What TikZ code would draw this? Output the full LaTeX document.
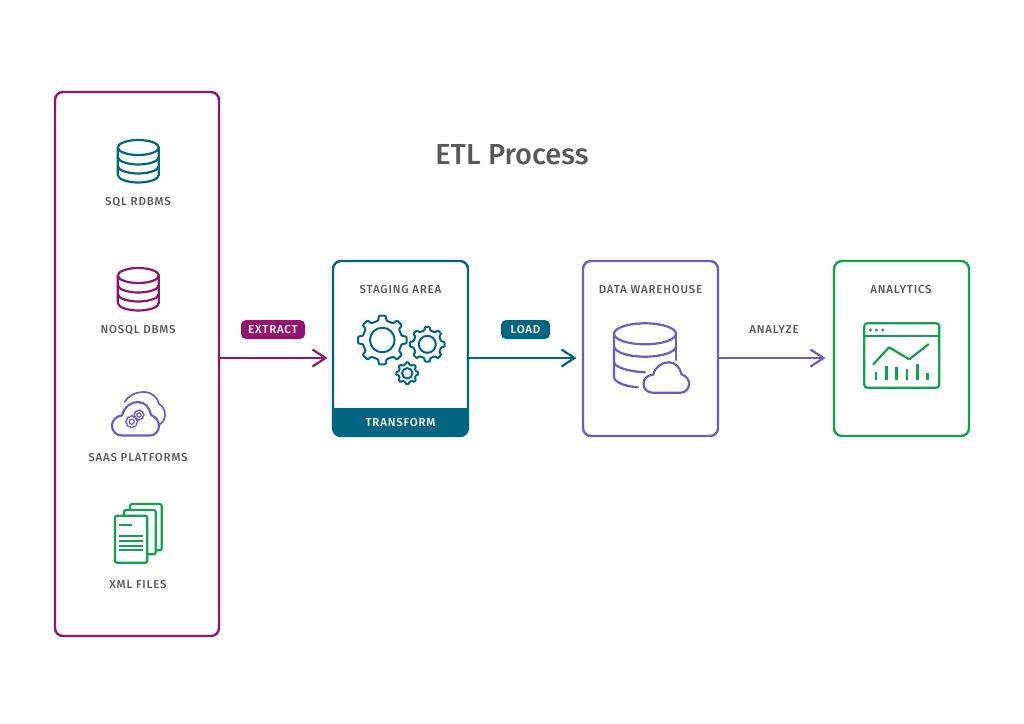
\documentclass[tikz,border=0pt]{standalone}
\usepackage{fontspec}
\setmainfont{Fira Sans}
\newfontfamily\labelfont[LetterSpace=7]{Fira Sans Medium}
\newfontfamily\titlefont{Fira Sans Medium}
\usepackage{xcolor}
\usetikzlibrary{positioning, arrows.meta}
\definecolor{plumc}{HTML}{93126F}
\definecolor{tealc}{HTML}{00657F}
\definecolor{violetc}{HTML}{6C5CC6}
\definecolor{greenc}{HTML}{12A150}
\definecolor{inkc}{HTML}{58595B}
\tikzset{
    stage/.style={draw, line width=2.4pt, rounded corners=8pt, outer sep=0pt, minimum width=135pt, minimum height=175pt},
    caption/.style={font=\labelfont\fontsize{11.5}{13}\selectfont, text=inkc, inner sep=0pt, text height=8pt, text depth=0pt},
    pill/.style={caption, text=white, fill=#1, rounded corners=5pt, minimum height=19pt},
    flow/.style={line width=2.2pt, -{Straight Barb[length=13pt, width=17pt, line width=2.2pt]}, shorten >=5.5pt},
    glyph/.style={line width=2.2pt, line join=round, line cap=round},
    pics/gearicon/.style args={#1/#2/#3}{code={
        \draw[glyph, rounded corners=0.8pt, line width=#3] (12:#1*0.81)
            \foreach \k in {1,...,7}{
                -- (\k*45-12:#1*0.81) -- (\k*45-8:#1) -- (\k*45+8:#1) -- (\k*45+12:#1*0.81)
            } -- (-12:#1*0.81) -- (-8:#1) -- (8:#1) -- cycle;
        \draw[glyph, line width=#3] (0,0) circle (#2);
    }},
    pics/dbicon/.style={code={
        \draw[glyph] (0,0) ellipse [x radius=20.5, y radius=7.5];
        \draw[glyph] (-20.5,0) -- (-20.5,27.5) .. controls (-20.5,32) and (-10,35) .. (0,35)
            .. controls (10,35) and (20.5,32) .. (20.5,27.5) -- (20.5,0);
        \draw[glyph] (-20.5,9.5) .. controls (-20.5,14) and (-10,17) .. (0,17) .. controls (10,17) and (20.5,14) .. (20.5,9.5);
        \draw[glyph] (-20.5,18.5) .. controls (-20.5,23) and (-10,26) .. (0,26) .. controls (10,26) and (20.5,23) .. (20.5,18.5);
    }},
    pics/cloudicon/.style={code={
        \draw[glyph] (10,33.5) .. controls (4,33.5) and (0,29) .. (0,24) .. controls (0,18) and (4,14) .. (10,13.5)
            .. controls (12,5) and (19,0) .. (26,0) .. controls (33,0) and (38,6) .. (39,13)
            .. controls (44,15) and (47,19) .. (47,24) .. controls (47,29) and (43,33.5) .. (38,33.5) -- cycle;
    }},
}

\begin{document}
\begin{tikzpicture}[x=1pt, y=-1pt]
    \useasboundingbox (0,0) rectangle (1024,723);

    \node[font=\titlefont\fontsize{29}{32}\selectfont, text=inkc, inner sep=0pt] (heading) at (512,154.5) {ETL Process};

    % boxes
    \node[stage, draw=plumc, minimum width=164pt, minimum height=544pt] (sources) at (137,364) {};
    \node[stage, draw=tealc] (staging) at (400.5,348.5) {};
    \node[stage, draw=violetc, right=115pt of staging] (warehouse) {};
    \node[stage, draw=greenc, right=116pt of warehouse] (analytics) {};
    \fill[tealc] (staging.west |- 0,408) [rounded corners=8pt] -- (staging.south west) -- (staging.south east) [sharp corners] -- (staging.east |- 0,408) -- cycle;

    % source column
    \pic[tealc] at (138.3,147.5) {dbicon};
    \node[caption] (sqlname) at (138,201.5) {SQL RDBMS};
    \pic[plumc] at (138.3,275.5) {dbicon};
    \node[caption] (nosqlname) at (138,329.5) {NOSQL DBMS};

    \draw[glyph, violetc, line width=1.7pt] (124.5,402) .. controls (128,396) and (135,392) .. (144,392) .. controls (152,392) and (158,398) .. (159,404) .. controls (163,406) and (165,410) .. (165,415) .. controls (165,420) and (162,423) .. (159,425);
    \pic[violetc] at (112,402) {cloudicon};
    \pic[violetc] at (131.7,421.7) {gearicon=6.2/2.6/1.2pt};
    \pic[violetc] at (139,415) {gearicon=5.2/2.2/1.2pt};
    \node[caption] (saasname) at (138,457.5) {SAAS PLATFORMS};

    \draw[glyph, greenc, rounded corners=2pt] (130,510) -- (130,504) -- (161.7,504) -- (161.7,550.3) -- (155.7,550.3);
    \draw[glyph, greenc, rounded corners=2pt] (124,515.7) -- (124,510) -- (155.7,510) -- (155.7,554.3) -- (147.3,554.3);
    \draw[glyph, greenc, rounded corners=2pt] (115,515.7) rectangle (147.3,562.7);
    \draw[glyph, greenc, line cap=butt] (119.3,525.3) -- (131.7,525.3);
    \foreach \ypos in {535.7,540.7,545.7,550.3}
        \draw[glyph, greenc, line cap=butt] (119.3,\ypos) -- (143.3,\ypos);
    \node[caption] (xmlname) at (138,584) {XML FILES};

    % staging area
    \node[caption] (stagingname) at (400.5,289.5) {STAGING AREA};
    \pic[tealc] at (382.3,340) {gearicon=24.5/12.3/2pt};
    \pic[tealc] at (427.3,344.3) {gearicon=17.5/8.5/2pt};
    \pic[tealc] at (407.3,373.3) {gearicon=11/5.2/2pt};
    \node[caption, text=white] (transformname) at (400.5,422) {TRANSFORM};

    % data warehouse
    \node[caption] (warehousename) at (650.5,289.5) {DATA WAREHOUSE};
    \draw[glyph, violetc] (645,333.8) ellipse [x radius=31, y radius=10.5];
    \draw[glyph, violetc] (614,333.8) -- (614,377) .. controls (614,382) and (625,386.5) .. (637.7,387.3);
    \draw[glyph, violetc] (676,333.8) -- (676,360);
    \draw[glyph, violetc] (614,346.2) .. controls (614,352) and (628,356.7) .. (645,356.7) .. controls (662,356.7) and (676,352) .. (676,346.2);
    \draw[glyph, violetc] (614,361.8) .. controls (614,367) and (628,371.5) .. (645,372.3);
    \pic[violetc, xscale=0.97, yscale=0.91] at (643.5,362.3) {cloudicon};

    % analytics
    \node[caption] (analyticsname) at (901,289.5) {ANALYTICS};
    \draw[glyph, greenc, rounded corners=3pt] (864.3,323.3) rectangle (939.3,387.7);
    \draw[glyph, greenc] (864.3,336) -- (939.3,336);
    \foreach \xpos in {870.3,876.5,882.7}
        \fill[greenc] (\xpos,330) circle (1.7);
    \draw[glyph, greenc] (873.3,364.3) -- (889,347.3) -- (909.3,359.3) -- (928.3,344.3);
    \foreach \xpos/\ytop in {876/371.7,886.3/365.7,896.7/367.3,907/369,917.3/364,927.7/373.3}
        \draw[glyph, greenc, line cap=butt, line width=2.7pt] (\xpos,380) -- (\xpos,\ytop);

    % connectors
    \coordinate (flowrow) at (0,358);
    \draw[flow, plumc] (sources.east |- flowrow) -- (staging.west |- flowrow);
    \draw[flow, tealc, shorten >=6.5pt] (staging.east |- flowrow) -- (warehouse.west |- flowrow);
    \draw[flow, violetc, shorten >=8.5pt] (warehouse.east |- flowrow) -- (analytics.west |- flowrow);

    \node[pill=plumc, minimum width=64pt] (extract) at (273,329.5) {EXTRACT};
    \node[pill=tealc, minimum width=49pt] (load) at (525.5,329.5) {LOAD};
    \node[caption] (analyze) at (774,329.5) {ANALYZE};
\end{tikzpicture}
\end{document}
